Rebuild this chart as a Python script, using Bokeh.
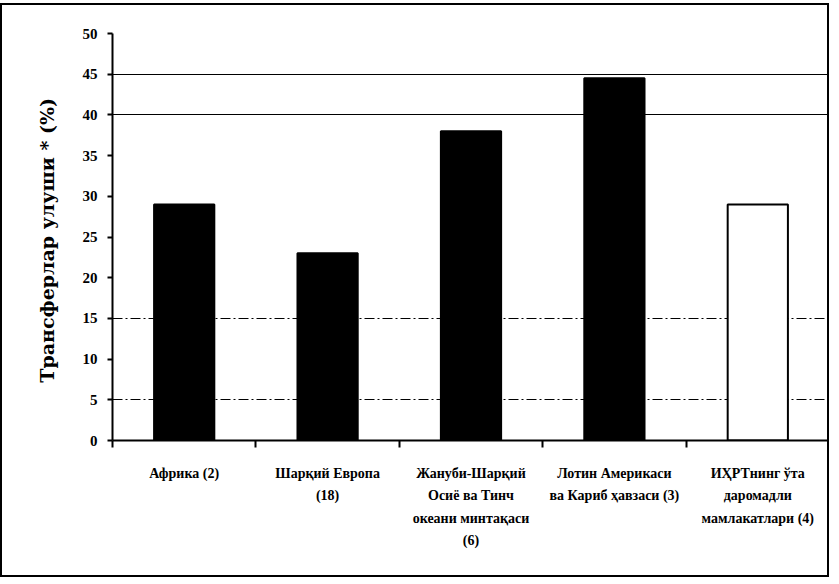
from bokeh.plotting import figure
from bokeh.models import Range1d, FixedTicker, Grid
from bokeh.embed import file_html
from bokeh.resources import INLINE
import numpy as np

categories = [
    "Африка (2)",
    "Шарқий Европа\n(18)",
    "Жануби-Шарқий\nОсиё ва Тинч\nокеани минтақаси\n(6)",
    "Лотин Америкаси\nва Кариб ҳавзаси (3)",
    "ИҲРТнинг ўта\nдаромадли\nмамлакатлари (4)",
]
values = [29, 23, 38, 44.5, 29]
fills = ["black", "black", "black", "black", "white"]
y_ticks = [0, 5, 10, 15, 20, 25, 30, 35, 40, 45, 50]

centers = np.arange(len(categories)) + 0.5
bounds = list(np.arange(len(categories) + 1).astype(float))

p = figure(width=829, height=574, output_backend="svg", toolbar_location=None,
           x_range=Range1d(0, len(categories)), y_range=Range1d(0, 50),
           min_border_left=110, min_border_right=2, min_border_top=28, min_border_bottom=139)
p.styles = {"border": "2px solid black", "margin-top": "3px"}
p.outline_line_color = None
p.background_fill_color = "white"

p.vbar(x=centers, width=0.42, top=values, bottom=0, fill_color=fills,
       line_color="black", line_width=2)

# grid
p.xgrid.visible = False
p.ygrid.ticker = FixedTicker(ticks=[40, 45])
p.ygrid.grid_line_color = "black"
p.ygrid.grid_line_width = 1.2
g2 = Grid(dimension=1, ticker=FixedTicker(ticks=[5, 15]), grid_line_color="black",
          grid_line_width=1.2, grid_line_dash="10 3 2 3")
p.add_layout(g2)

font = "Liberation Serif"

# x axis
xa = p.xaxis[0]
xa.ticker = FixedTicker(ticks=list(centers), minor_ticks=bounds)
xa.major_label_overrides = {float(c): lab for c, lab in zip(centers, categories)}
xa.major_tick_out = 0
xa.major_tick_in = 0
xa.minor_tick_out = 7
xa.minor_tick_in = 0
xa.minor_tick_line_color = "black"
xa.minor_tick_line_width = 2
xa.axis_line_width = 2
xa.axis_line_color = "black"
xa.major_label_text_font = font
xa.major_label_text_font_style = "bold"
xa.major_label_text_font_size = "14px"
xa.major_label_text_color = "black"
xa.major_label_text_line_height = 1.5
xa.major_label_standoff = 18

# y axis
ya = p.yaxis[0]
ya.ticker = FixedTicker(ticks=y_ticks)
ya.minor_tick_line_color = None
ya.major_tick_out = 5
ya.major_tick_in = 0
ya.major_tick_line_width = 2
ya.axis_line_width = 2
ya.axis_line_color = "black"
ya.major_label_text_font = font
ya.major_label_text_font_style = "bold"
ya.major_label_text_font_size = "15px"
ya.major_label_text_color = "black"
ya.major_label_standoff = 10
ya.axis_label = "Трансферлар улуши *  (%)"
ya.axis_label_text_font = "DejaVu Serif"
ya.axis_label_text_font_style = "bold"
ya.axis_label_text_font_size = "19px"
ya.axis_label_text_color = "black"
ya.axis_label_standoff = 22

open("out.html", "w").write(file_html(p, INLINE))
